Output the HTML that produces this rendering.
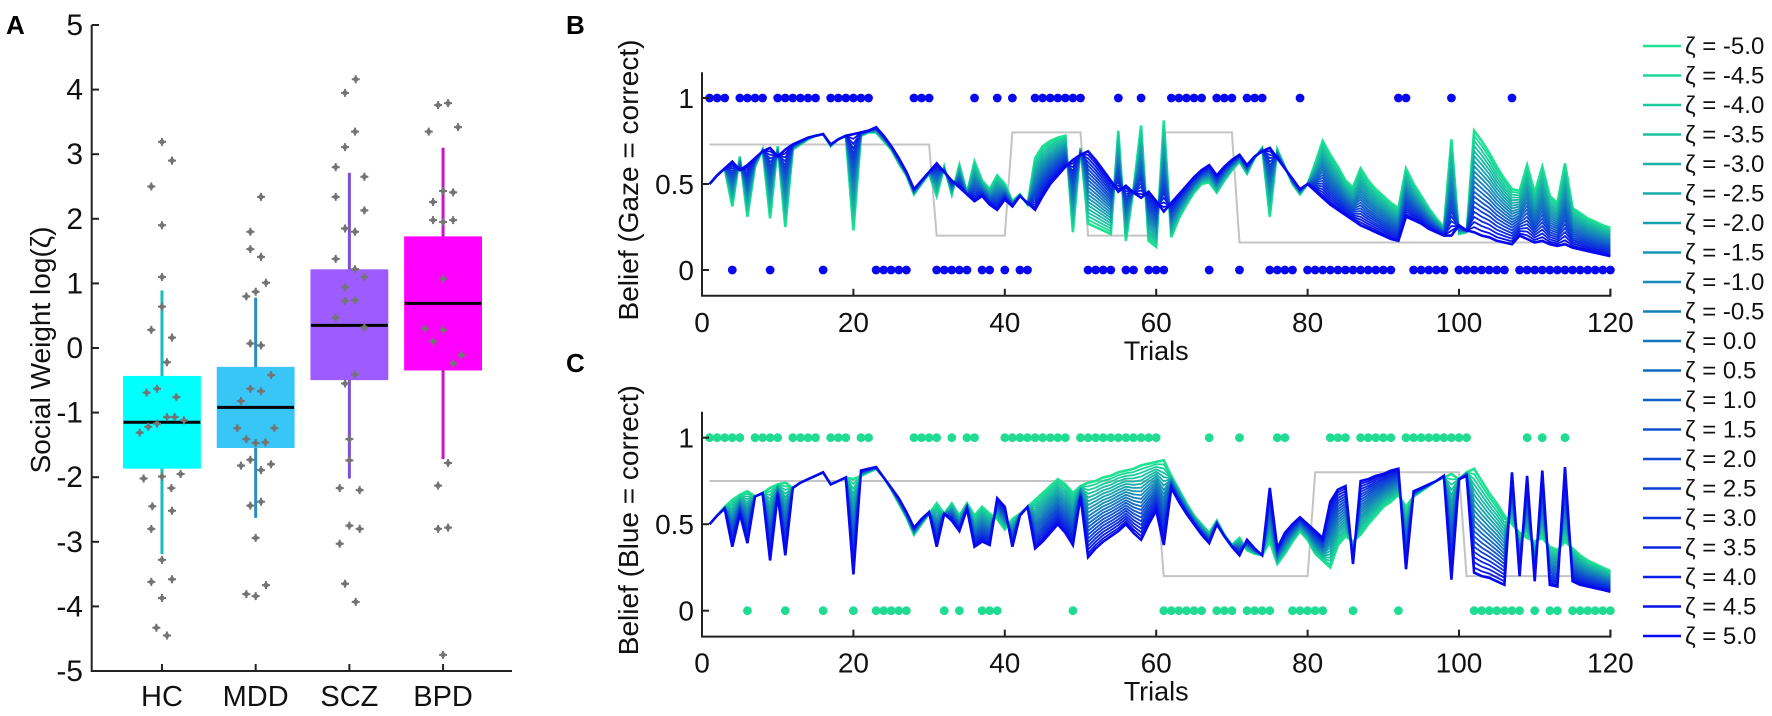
<!DOCTYPE html>
<html><head><meta charset="utf-8">
<style>
html,body{margin:0;padding:0;background:#fff;}
svg{display:block;font-family:"Liberation Sans",Arial,sans-serif;}
</style></head>
<body>
<svg id="fig" width="1772" height="716" viewBox="0 0 1772 716" xmlns="http://www.w3.org/2000/svg">
<g id="gA"></g>
<g id="gB"></g>
<g id="gC"></g>
<g id="gL"></g>
</svg>
<script>
// ---------- Panel A data ----------
const groups = ["HC","MDD","SCZ","BPD"];
const boxQ1 = [-1.86,-1.54,-0.49,-0.34];
const boxQ3 = [-0.44,-0.30,1.21,1.72];
const boxMed = [-1.15,-0.92,0.35,0.69];
const whiskLo = [-3.19,-2.63,-2.02,-1.72];
const whiskHi = [0.89,0.78,2.71,3.10];
const boxFill = ["#00ffff","#38c6f7","#9c5cff","#ff00ff"];
const whiskColor = ["#1abcbc","#2a8cc2","#7a50d6","#c417c8"];
const ptsHC = [3.19,2.90,2.50,1.90,1.10,0.64,0.28,0.16,-0.22,-0.69,-0.63,-0.76,-1.31,-1.22,-1.17,-1.07,-1.07,-1.12,-2.02,-1.99,-1.95,-2.17,-2.45,-2.52,-2.80,-3.28,-3.62,-3.58,-3.87,-4.33,-4.45];
const jitHC = [0,.107,-.114,0,0,0,-.114,.107,.053,-.164,-.053,.153,-.238,-.146,-.053,.053,.135,.235,-.196,0,.199,.1,-.103,.107,-.114,0,-.114,.107,0,-.06,.053];
const ptsMDD = [2.34,1.80,1.53,1.41,0.87,0.80,1.01,0.07,0.04,-0.42,-0.63,-0.67,-0.82,-1.24,-1.24,-1.41,-1.47,-1.46,-1.73,-1.82,-1.80,-1.89,-2.44,-2.38,-2.94,-3.67,-3.81,-3.84];
const jitMDD = [.057,-.057,-.057,.057,0,-.1,.11,-.057,.057,.164,-.057,.057,-.157,-.196,.199,-.1,0,.103,-.057,-.157,.164,.057,-.057,.057,0,.11,-.1,0];
const ptsSCZ = [4.16,3.95,3.35,3.11,2.80,2.65,2.34,2.13,1.85,1.80,1.38,1.22,1.10,0.94,0.73,0.74,0.47,0.32,-0.41,-0.55,-1.41,-1.74,-2.17,-2.20,-2.75,-2.80,-3.03,-3.65,-3.93];
const jitSCZ = [.068,-.046,.06,-.046,-.146,.16,-.146,.16,-.046,.06,-.146,.06,.16,-.046,-.046,.06,-.146,.16,.06,-.046,0,0,-.103,.11,0,.11,-.103,-.046,.068];
const ptsBPD = [3.76,3.79,3.35,3.42,2.43,2.41,2.26,1.98,1.95,1.98,1.07,0.30,0.28,0.10,-0.11,-0.24,-1.78,-2.13,-2.80,-2.78,-4.75];
const jitBPD = [-.053,.053,-.153,.16,0,.107,-.107,-.107,0,.107,0,-.196,0,-.107,.196,.107,.053,-.053,-.053,.053,0];
const aYTicks = [5,4,3,2,1,0,-1,-2,-3,-4,-5];

// ---------- Panels B/C data ----------
const trialTicks = [0,20,40,60,80,100,120];
const beliefTicks = [0,0.5,1];
const zetas = [-5,-4.5,-4,-3.5,-3,-2.5,-2,-1.5,-1,-0.5,0,0.5,1,1.5,2,2.5,3,3.5,4,4.5,5];
const outcomeB = [1,1,1,0,1,1,1,1,0,1, 1,1,1,1,1,0,1,1,1,1, 1,1,0,0,0,0,0,1,1,1, 0,0,0,0,0,1,0,0,1,0, 1,0,0,1,1,1,1,1,1,1, 0,0,0,0,1,0,0,1,0,0, 0,1,1,1,1,1,0,1,1,1, 0,1,1,1,0,0,0,0,1,0, 0,0,0,0,0,0,0,0,0,0, 0,1,1,0,0,0,0,0,1,0, 0,0,0,0,0,0,1,0,0,0, 0,0,0,0,0,0,0,0,0,0];
const outcomeC = [1,1,1,1,1,0,1,1,1,1, 0,1,1,1,1,0,1,1,1,0, 1,1,0,0,0,0,0,1,1,1, 1,0,1,0,1,1,0,0,0,1, 1,1,1,1,1,1,1,1,0,1, 1,1,1,1,1,1,1,1,1,1, 0,0,0,0,0,0,1,0,0,0, 1,0,0,0,0,1,1,0,0,0, 0,0,1,1,1,0,1,1,1,1, 1,0,1,1,1,1,1,1,1,1, 1,0,0,0,0,0,0,0,1,0, 1,0,0,1,0,0,0,0,0,0];
const trueProbB = [[1,30,0.73],[31,40,0.20],[41,50,0.80],[51,60,0.20],[61,70,0.80],[71,120,0.16]];
const trueProbC = [[1,60,0.75],[61,80,0.20],[81,100,0.80],[101,120,0.20]];
const blueB = [.5,.55,.59,.63,.58,.61,.65,.69,.71,.66, .7,.73,.75,.77,.78,.79,.73,.76,.78,.79, .8,.81,.83,.78,.72,.65,.57,.47,.52,.57, .62,.57,.52,.48,.44,.40,.43,.38,.35,.41, .37,.43,.39,.35,.43,.5,.55,.6,.64,.67, .69,.64,.58,.52,.455,.49,.45,.42,.455,.4, .34,.39,.44,.49,.54,.58,.61,.55,.6,.64, .67,.61,.66,.69,.71,.65,.59,.53,.47,.5, .46,.42,.38,.35,.32,.29,.26,.24,.22,.2, .18,.17,.31,.29,.27,.24,.22,.2,.2,.26, .23,.22,.2,.19,.17,.16,.15,.2,.18,.16, .17,.15,.14,.15,.13,.12,.11,.1,.09,.08];
const greenB = [.5,.55,.59,.37,.66,.31,.6,.7,.3,.72, .25,.7,.73,.76,.78,.79,.72,.76,.78,.23, .78,.8,.8,.75,.7,.62,.55,.44,.5,.56, .43,.6,.44,.61,.45,.63,.52,.47,.55,.5, .4,.44,.38,.65,.72,.75,.77,.78,.22,.71, .27,.25,.23,.21,.81,.17,.47,.84,.17,.135, .87,.19,.3,.38,.45,.5,.51,.45,.52,.58, .63,.56,.65,.71,.31,.7,.6,.5,.44,.5, .62,.75,.67,.6,.52,.48,.59,.52,.47,.43, .39,.36,.59,.5,.43,.36,.3,.25,.76,.21, .22,.81,.75,.68,.6,.53,.47,.46,.61,.45, .6,.43,.39,.62,.36,.33,.3,.28,.26,.245];
const blueC = [.5,.55,.59,.37,.56,.39,.66,.68,.29,.67, .32,.71,.74,.76,.78,.8,.73,.75,.77,.21, .81,.82,.83,.77,.71,.65,.57,.48,.53,.57, .37,.56,.52,.46,.59,.37,.4,.38,.65,.6, .37,.55,.6,.36,.4,.45,.5,.45,.38,.66, .31,.36,.4,.43,.46,.5,.45,.41,.5,.58, .38,.71,.63,.56,.5,.44,.39,.5,.43,.37, .32,.41,.36,.32,.71,.36,.45,.5,.54,.5, .46,.42,.63,.7,.72,.27,.75,.76,.78,.79, .81,.82,.24,.69,.71,.73,.75,.78,.18,.76, .78,.22,.2,.19,.17,.15,.8,.2,.78,.17, .81,.15,.14,.83,.17,.15,.14,.13,.12,.11];
const greenC = [.5,.55,.6,.64,.67,.69,.66,.68,.71,.73, .74,.71,.74,.76,.78,.8,.73,.75,.77,.76, .78,.8,.82,.77,.7,.62,.54,.44,.5,.56, .62,.56,.62,.55,.62,.55,.6,.56,.53,.47, .53,.56,.6,.64,.68,.72,.76,.73,.68,.72, .74,.75,.77,.78,.8,.81,.82,.84,.85,.86, .87,.78,.7,.62,.55,.5,.45,.52,.44,.38, .42,.35,.33,.32,.4,.27,.33,.4,.46,.41, .33,.29,.25,.38,.43,.4,.44,.5,.55,.6, .63,.67,.6,.66,.69,.72,.75,.77,.79,.76, .8,.82,.75,.68,.62,.55,.5,.45,.42,.4, .42,.37,.35,.4,.36,.32,.29,.27,.25,.23];

const NS = "http://www.w3.org/2000/svg";
function mk(parent, tag, attrs, text){
  const e = document.createElementNS(NS, tag);
  for (const k in attrs) e.setAttribute(k, attrs[k]);
  if (text !== undefined) e.textContent = text;
  parent.appendChild(e);
  return e;
}
const GREEN = [28,226,146], BLUE = [8,8,238];
function zcol(f){
  const c = GREEN.map((g,i)=>Math.round(g + (BLUE[i]-g)*f));
  return `rgb(${c[0]},${c[1]},${c[2]})`;
}

// ---------- Panel A ----------
(function(){
  const g = document.getElementById("gA");
  const xA = c => 91.7 + (c - 0.25) * 93.7;   // c = 1..4
  const yA = v => 348 - 64.6 * v;
  let t = mk(g,"text",{x:6,y:34,"font-size":26,"font-weight":"bold"},"A");
  
  
  const bw = 0.82 * 93.7;
  const allPts = [ptsHC, ptsMDD, ptsSCZ, ptsBPD];
  const allJit = [jitHC, jitMDD, jitSCZ, jitBPD];
  groups.forEach((name, i) => {
    const cx = xA(i + 1);
    const w = mk(g,"line",{x1:cx,x2:cx,y1:yA(whiskHi[i]),y2:yA(whiskLo[i]),stroke:whiskColor[i],"stroke-width":3});
    
    
    const r = mk(g,"rect",{x:cx-bw/2,y:yA(boxQ3[i]),width:bw,height:yA(boxQ1[i])-yA(boxQ3[i]),fill:boxFill[i],stroke:boxFill[i],"stroke-width":1});
    
    
    const m = mk(g,"line",{x1:cx-bw/2,x2:cx+bw/2,y1:yA(boxMed[i]),y2:yA(boxMed[i]),stroke:"#000","stroke-width":3});
    
    
    allPts[i].forEach((v, j) => {
      const px = xA(i + 1 + allJit[i][j]), py = yA(v);
      const p = mk(g,"path",{d:`M${px-3.5},${py} L${px},${py-3.5} L${px+3.5},${py} L${px},${py+3.5} Z M${px-1},${py-4} h2 v8 h-2 Z M${px-4},${py-1} h8 v2 h-8 Z`,fill:"#747474"});
      
      
    });
  });
  // axes
  const ax = mk(g,"path",{d:`M91.7,${yA(5)} V${yA(-5)} H512`,stroke:"#222","stroke-width":2,fill:"none"});
  
  
  aYTicks.forEach(v => {
    mk(g,"line",{x1:91.7,x2:99,y1:yA(v),y2:yA(v),stroke:"#222","stroke-width":2});
    const tl = mk(g,"text",{x:83,y:yA(v)+10,"font-size":30,"text-anchor":"end",fill:"#111"}, String(v));
    
    
  });
  groups.forEach((name, i) => {
    const cx = xA(i + 1);
    mk(g,"line",{x1:cx,x2:cx,y1:yA(-5),y2:yA(-5)-7,stroke:"#222","stroke-width":2});
    const tl = mk(g,"text",{x:cx,y:706,"font-size":29,"text-anchor":"middle",fill:"#111"}, name);
    
    
  });
  const yl = mk(g,"text",{x:0,y:0,"font-size":28,"text-anchor":"middle",fill:"#111",transform:"translate(50,350) rotate(-90)"},"Social Weight log(ζ)");
  
  
})();

// ---------- Panels B / C ----------
function beliefPanel(gid, letter, letterY, y1, yRange, ylabel, blue, green, outcome, trueProb, dotColor, prefix){
  const g = document.getElementById(gid);
  const xT = t => 702 + 7.57 * t;
  const yV = v => y1 - yRange * v;
  const lt = mk(g,"text",{x:566,y:letterY,"font-size":26,"font-weight":"bold"},letter);
  
  
  // true probability
  let d = "";
  trueProb.forEach((s, i) => {
    d += (i === 0 ? "M" : "L") + xT(s[0]) + "," + yV(s[2]) + " L" + xT(s[1]) + "," + yV(s[2]) + " ";
  });
  const tp = mk(g,"path",{d:d,stroke:"#c4c4c4","stroke-width":2,fill:"none"});
  
  
  // belief lines
  zetas.forEach((z, k) => {
    const f = k / (zetas.length - 1);
    let pd = "";
    blue.forEach((b, i) => {
      const v = green[i] + (b - green[i]) * f;
      pd += (i === 0 ? "M" : "L") + xT(i + 1).toFixed(1) + "," + yV(v).toFixed(1);
    });
    const ln = mk(g,"path",{d:pd,stroke:zcol(f),"stroke-width":(k===0||k===zetas.length-1)?2.6:1.8,fill:"none","stroke-linejoin":"miter"});
    
    
  });
  // outcome dots
  outcome.forEach((o, i) => {
    const c = mk(g,"circle",{cx:xT(i + 1),cy:yV(o),r:4.4,fill:dotColor});
    
    
  });
  // axes
  const top = yV(1.15), bot = yV(-0.15);
  const ax = mk(g,"path",{d:`M702,${top} V${bot} H${xT(120)} V${bot-7}`,stroke:"#222","stroke-width":2,fill:"none"});
  
  
  beliefTicks.forEach(v => {
    mk(g,"line",{x1:702,x2:709,y1:yV(v),y2:yV(v),stroke:"#222","stroke-width":2});
    const tl = mk(g,"text",{x:694,y:yV(v)+10,"font-size":28,"text-anchor":"end",fill:"#111"}, String(v));
    
    
  });
  trialTicks.forEach(t => {
    mk(g,"line",{x1:xT(t),x2:xT(t),y1:bot,y2:bot-7,stroke:"#222","stroke-width":2});
    const tl = mk(g,"text",{x:xT(t),y:bot+36,"font-size":28,"text-anchor":"middle",fill:"#111"}, String(t));
    
    
  });
  const xl = mk(g,"text",{x:(702+xT(120))/2,y:bot+64,"font-size":27,"text-anchor":"middle",fill:"#111"},"Trials");
  
  
  const yl = mk(g,"text",{x:0,y:0,"font-size":28,"text-anchor":"middle",fill:"#111",transform:`translate(638,${(top+bot)/2-4}) rotate(-90)`},ylabel);
  
  
}
beliefPanel("gB","B",34,270,172,"Belief (Gaze = correct)",blueB,greenB,outcomeB,trueProbB,"#0808f0","b");
beliefPanel("gC","C",372,610.7,173,"Belief (Blue = correct)",blueC,greenC,outcomeC,trueProbC,"#20db92","c");

// ---------- Legend ----------
(function(){
  const g = document.getElementById("gL");
  zetas.forEach((z, k) => {
    const f = k / (zetas.length - 1);
    const y = 46 + 29.5 * k;
    const ln = mk(g,"line",{x1:1643,x2:1681,y1:y,y2:y,stroke:zcol(f),"stroke-width":2.5});
    
    
    const tx = mk(g,"text",{x:1685,y:y+8,"font-size":24,fill:"#111"},"ζ = " + z.toFixed(1));
    
    
  });
})();
</script>
</body></html>
